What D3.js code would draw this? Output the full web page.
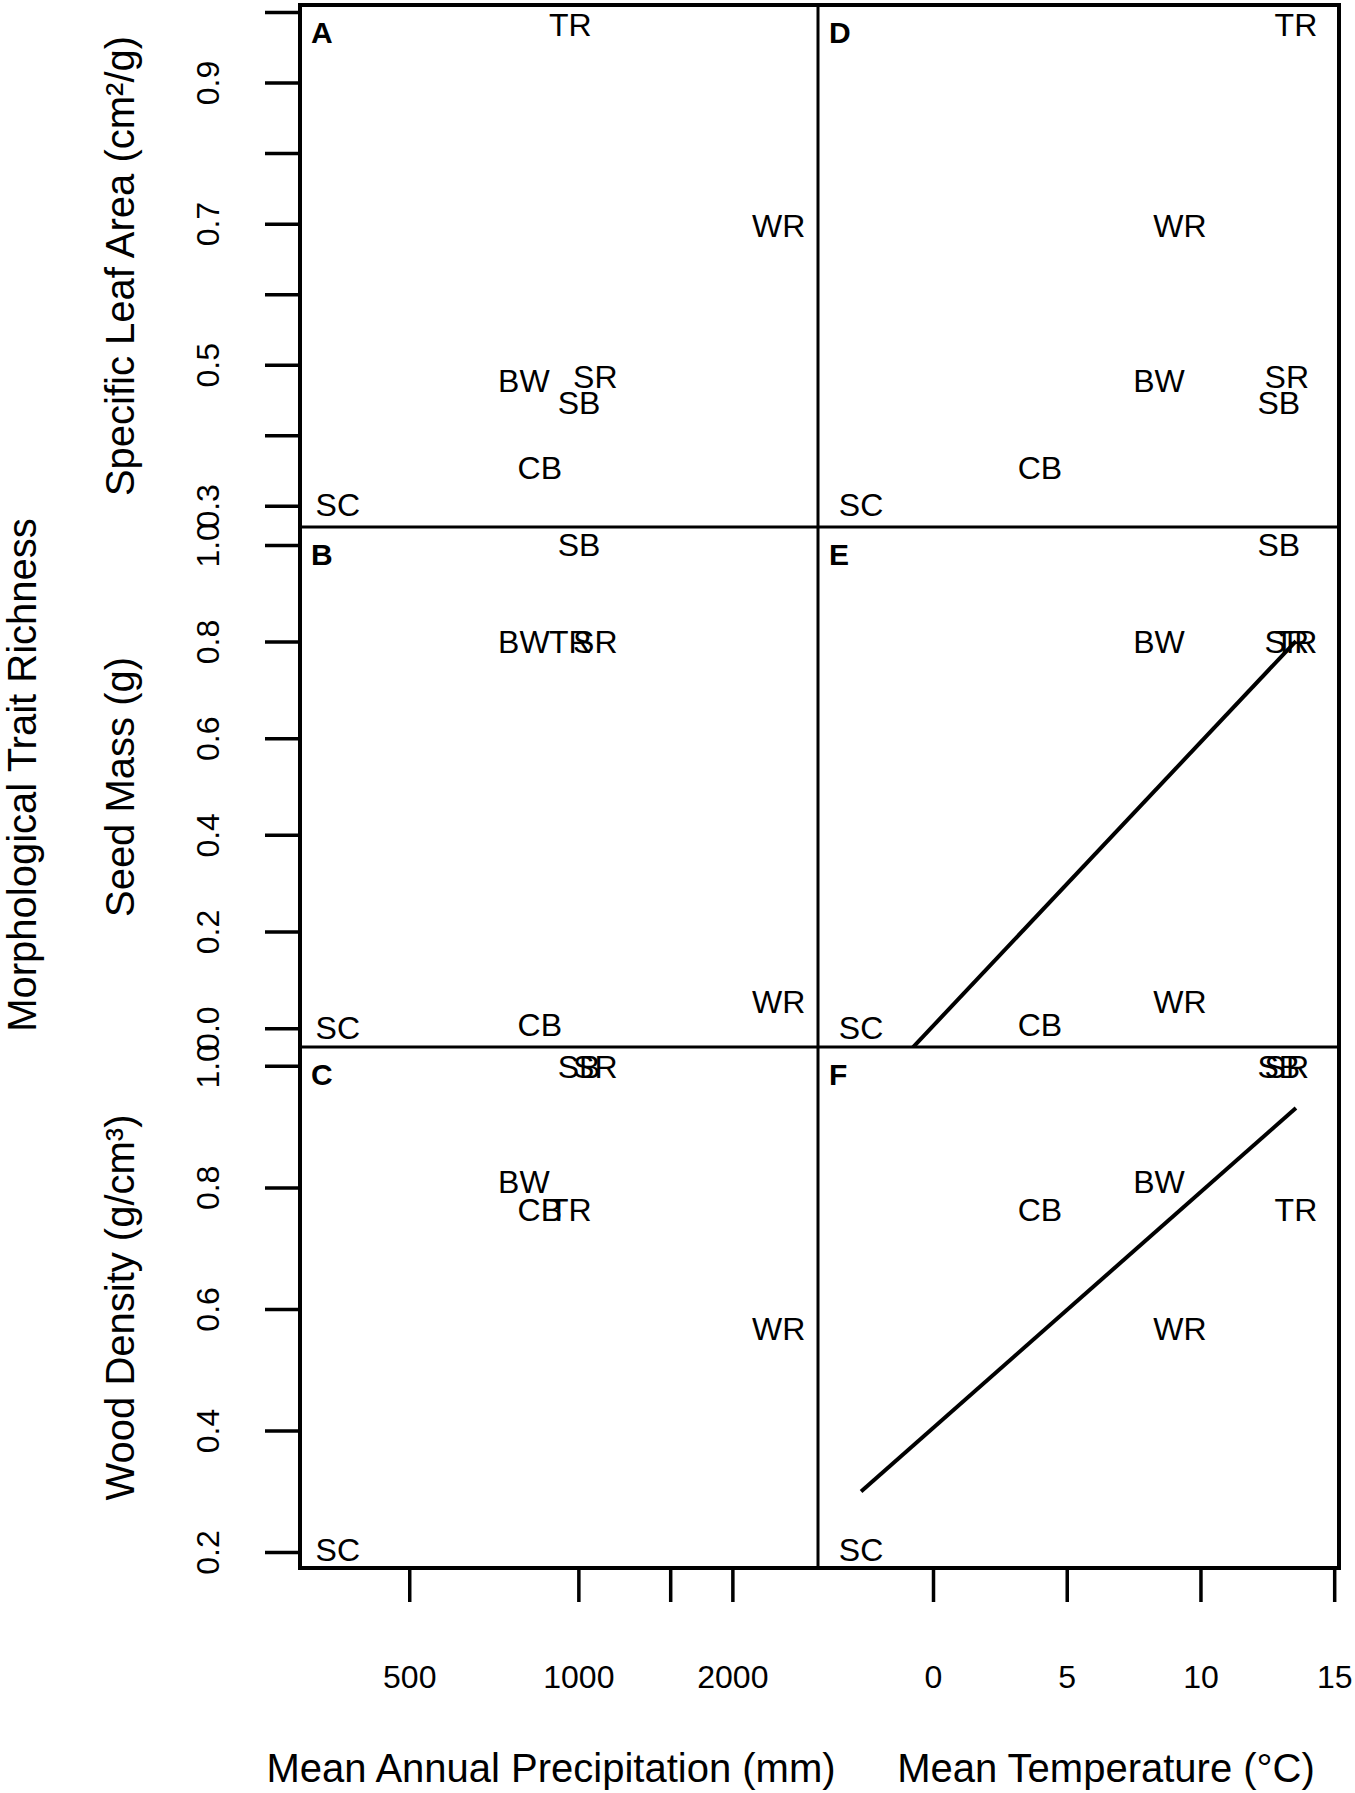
<!DOCTYPE html>
<html>
<head>
<meta charset="utf-8">
<script src="https://cdn.jsdelivr.net/npm/d3@7"></script>
<style>
  body { margin: 0; background: #fff; }
  svg { font-family: "Liberation Sans", Arial, Helvetica, sans-serif; }
</style>
</head>
<body>
<svg id="chart" width="1355" height="1793"></svg>
<script>
// site codes and their climate
var sites = ["TR", "WR", "BW", "SR", "SB", "CB", "SC"];
var precipitation = [966, 2497, 794, 1076, 1003, 849, 380];
var temperature = [13.57, 9.23, 8.45, 13.23, 12.93, 4.0, -2.69];

// trait richness per site
var leafArea = [0.982, 0.697, 0.477, 0.483, 0.446, 0.354, 0.301];
var seedMass = [0.80, 0.054, 0.80, 0.80, 1.0, 0.006, 0.0];
var woodDensity = [0.763, 0.567, 0.809, 0.998, 0.998, 0.763, 0.203];

// fitted lines against temperature: [intercept, slope]
var seedFit = [0.0044, 0.0587];
var woodFit = [0.404, 0.0388];

var panelLetters = [["A", "D"], ["B", "E"], ["C", "F"]];
var rowTitles = ["Specific Leaf Area (cm\u00b2/g)", "Seed Mass (g)", "Wood Density (g/cm\u00b3)"];
var colTitles = ["Mean Annual Precipitation (mm)", "Mean Temperature (\u00b0C)"];
var sideTitle = "Morphological Trait Richness";

var leafTicks = [0.3, 0.4, 0.5, 0.6, 0.7, 0.8, 0.9, 1.0];
var leafLabels = ["0.3", "", "0.5", "", "0.7", "", "0.9", ""];
var seedTicks = [0.0, 0.2, 0.4, 0.6, 0.8, 1.0];
var seedLabels = ["0.0", "0.2", "0.4", "0.6", "0.8", "1.0"];
var woodTicks = [0.2, 0.4, 0.6, 0.8, 1.0];
var woodLabels = ["0.2", "0.4", "0.6", "0.8", "1.0"];
var precipTicks = [500, 1000, 1500, 2000];
var precipLabels = ["500", "1000", "", "2000"];
var tempTicks = [0, 5, 10, 15];
var tempLabels = ["0", "5", "10", "15"];

var font = "Liberation Sans, Arial, Helvetica, sans-serif";
var colX = [300, 818, 1339];
var rowY = [5, 527, 1047, 1568];

var svg = d3.select("#chart");

var xPrecip = d3.scalePow().exponent(-0.135).domain([330, 3030]).range([colX[0], colX[1]]);
var xTemp = d3.scaleLinear().domain([-4.3, 15.18]).range([colX[1], colX[2]]);

var yScales = [
  d3.scaleLinear().domain([0.270, 1.0099]).range([rowY[1], rowY[0]]),
  d3.scaleLinear().domain([-0.039, 1.037]).range([rowY[2], rowY[1]]),
  d3.scaleLinear().domain([0.1737, 1.031]).range([rowY[3], rowY[2]])
];

var rows = [
  {values: leafArea, ticks: leafTicks, labels: leafLabels, fit: null},
  {values: seedMass, ticks: seedTicks, labels: seedLabels, fit: seedFit},
  {values: woodDensity, ticks: woodTicks, labels: woodLabels, fit: woodFit}
];
var cols = [
  {x: xPrecip, values: precipitation, ticks: precipTicks, labels: precipLabels, titleX: 551},
  {x: xTemp, values: temperature, ticks: tempTicks, labels: tempLabels, titleX: 1106}
];

var fitLine = d3.line()
  .x(function(d) { return xTemp(d[0]); });

rows.forEach(function(row, r) {
  var y = yScales[r];

  cols.forEach(function(col, c) {
    var id = "clip-" + r + "-" + c;
    svg.append("clipPath").attr("id", id)
      .append("rect")
      .attr("x", colX[c]).attr("y", rowY[r])
      .attr("width", colX[c + 1] - colX[c])
      .attr("height", rowY[r + 1] - rowY[r]);

    var panel = svg.append("g");

    panel.selectAll(".site")
      .data(sites)
      .enter().append("text")
      .attr("class", "site")
      .attr("x", function(d, i) { return col.x(col.values[i]); })
      .attr("y", function(d, i) { return y(row.values[i]); })
      .attr("dy", "0.35em")
      .attr("text-anchor", "middle")
      .style("font-size", "32px")
      .text(function(d) { return d; });

    if (c === 1 && row.fit) {
      var fit = row.fit;
      var ends = d3.extent(temperature).map(function(t) { return [t, fit[0] + fit[1] * t]; });
      panel.append("path")
        .datum(ends)
        .attr("clip-path", "url(#" + id + ")")
        .attr("fill", "none")
        .attr("stroke", "#000")
        .attr("stroke-width", 4)
        .attr("d", fitLine.y(function(d) { return y(d[1]); }));
    }

    panel.append("text")
      .attr("x", colX[c] + 11)
      .attr("y", rowY[r] + 38)
      .style("font-size", "30px")
      .style("font-weight", "bold")
      .text(panelLetters[r][c]);
  });

  var yAxis = d3.axisLeft(y)
    .tickValues(row.ticks)
    .tickSize(35)
    .tickFormat(function(d, i) { return row.labels[i]; });

  var g = svg.append("g")
    .attr("transform", "translate(" + colX[0] + ",0)")
    .call(yAxis)
    .attr("font-family", font)
    .attr("font-size", 32);
  g.select(".domain").remove();
  g.selectAll(".tick line").attr("stroke-width", 3.5);
  g.selectAll(".tick text")
    .attr("x", null)
    .attr("dy", "0.35em")
    .attr("text-anchor", "middle")
    .attr("transform", "translate(-92,0) rotate(-90)");

  svg.append("text")
    .attr("transform", "translate(134," + (rowY[r] + rowY[r + 1]) / 2 + ") rotate(-90)")
    .attr("text-anchor", "middle")
    .style("font-size", "40px")
    .text(rowTitles[r]);
});

cols.forEach(function(col, c) {
  var xAxis = d3.axisBottom(col.x)
    .tickValues(col.ticks)
    .tickSize(34)
    .tickFormat(function(d, i) { return col.labels[i]; });

  var g = svg.append("g")
    .attr("transform", "translate(0," + rowY[3] + ")")
    .call(xAxis)
    .attr("font-family", font)
    .attr("font-size", 32);
  g.select(".domain").remove();
  g.selectAll(".tick line").attr("stroke-width", 3.5);
  g.selectAll(".tick text")
    .attr("y", 109)
    .attr("dy", "0.35em");

  svg.append("text")
    .attr("x", col.titleX)
    .attr("y", 1782)
    .attr("text-anchor", "middle")
    .style("font-size", "40px")
    .text(colTitles[c]);
});

svg.append("text")
  .attr("transform", "translate(36,775) rotate(-90)")
  .attr("text-anchor", "middle")
  .style("font-size", "40px")
  .text(sideTitle);

// panel frames
var frame = svg.append("g").attr("stroke", "#000").attr("fill", "none");
frame.append("rect")
  .attr("x", colX[0]).attr("y", rowY[0])
  .attr("width", colX[2] - colX[0]).attr("height", rowY[3] - rowY[0])
  .attr("stroke-width", 4);
frame.append("line")
  .attr("x1", colX[1]).attr("x2", colX[1])
  .attr("y1", rowY[0]).attr("y2", rowY[3])
  .attr("stroke-width", 3);
[rowY[1], rowY[2]].forEach(function(yy) {
  frame.append("line")
    .attr("x1", colX[0]).attr("x2", colX[2])
    .attr("y1", yy).attr("y2", yy)
    .attr("stroke-width", 3);
});
</script>
</body>
</html>
